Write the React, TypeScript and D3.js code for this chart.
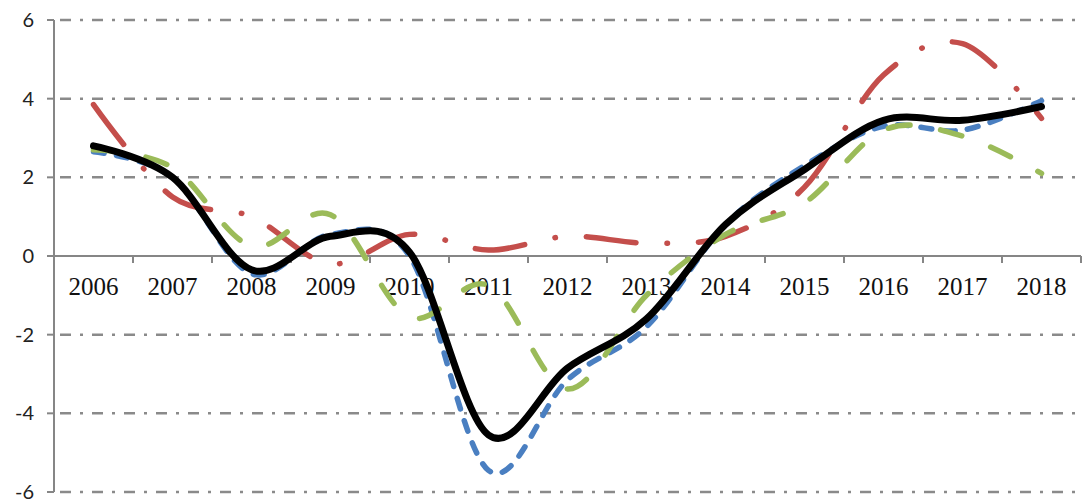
import React from "react";
import * as d3 from "d3";

const years = ["2006","2007","2008","2009","2010","2011","2012","2013","2014","2015","2016","2017","2018"];
const yTicks = [6, 4, 2, 0, -2, -4, -6];
const blueSeries = [2.65, 2.0, -0.45, 0.55, 0.0, -5.45, -3.15, -1.8, 0.8, 2.3, 3.3, 3.2, 3.95];
const redSeries = [3.85, 1.5, 1.0, -0.2, 0.55, 0.15, 0.5, 0.33, 0.5, 1.75, 4.6, 5.4, 3.5];
const greenSeries = [2.7, 2.25, 0.25, 1.05, -1.55, -0.75, -3.38, -1.0, 0.55, 1.35, 3.2, 3.05, 2.1];
const blackSeries = [2.8, 2.0, -0.35, 0.5, 0.1, -4.55, -2.85, -1.6, 0.8, 2.2, 3.45, 3.45, 3.8];

const W = 1082;
const H = 503;
const left = 54;
const right = 1081;
const top = 20;
const bottom = 492;
const axisColor = "#868686";

export default function App() {
  const x = d3.scaleBand<string>().domain(years).range([left, right]).paddingInner(0).paddingOuter(0);
  const y = d3.scaleLinear().domain([-6, 6]).range([bottom, top]);
  const bw = x.bandwidth();
  const line = d3
    .line<number>()
    .x((_, i) => (x(years[i]) as number) + bw / 2)
    .y((d) => y(d))
    .curve(d3.curveCardinal.tension(0));

  const series = [
    { data: blueSeries, color: "#4A7FC1", width: 5.5, dash: "11,12.5" },
    { data: redSeries, color: "#C44E4B", width: 5.5, dash: "50,31,0.5,31" },
    { data: greenSeries, color: "#9BBB59", width: 5.5, dash: "22,31" },
    { data: blackSeries, color: "#000000", width: 7, dash: "none" },
  ];

  return (
    <svg width={W} height={H} style={{ position: "absolute", left: 0, top: 0, background: "#fff" }}>
      {yTicks.filter((t) => t !== 0).map((t) => (
        <line
          key={"g" + t}
          x1={left}
          x2={W}
          y1={y(t)}
          y2={y(t)}
          stroke="#8a8a8a"
          strokeWidth={2.5}
          strokeDasharray="11,9,3,9"
          strokeDashoffset={-6}
        />
      ))}
      <line x1={left} x2={left} y1={top} y2={bottom} stroke={axisColor} strokeWidth={2} />
      {yTicks.map((t) => (
        <line key={"yt" + t} x1={left - 7} x2={left} y1={y(t)} y2={y(t)} stroke={axisColor} strokeWidth={2} />
      ))}
      {yTicks.map((t) => (
        <text
          key={"yl" + t}
          x={34}
          y={y(t) + 2}
          textAnchor="end"
          dominantBaseline="middle"
          fontFamily="Lato, 'Open Sans', sans-serif"
          fontSize={20}
          fill="#222"
        >
          {t}
        </text>
      ))}
      <line x1={left} x2={right} y1={y(0)} y2={y(0)} stroke={axisColor} strokeWidth={2} />
      {years.map((yr) => (
        <line
          key={"xt" + yr}
          x1={(x(yr) as number) + bw}
          x2={(x(yr) as number) + bw}
          y1={y(0)}
          y2={y(0) + 7}
          stroke={axisColor}
          strokeWidth={2}
        />
      ))}
      {years.map((yr) => (
        <text
          key={"xl" + yr}
          x={(x(yr) as number) + bw / 2}
          y={295}
          textAnchor="middle"
          fontFamily="'Liberation Serif', 'Times New Roman', serif"
          fontSize={25}
          fill="#111"
        >
          {yr}
        </text>
      ))}
      {series.map((s, i) => (
        <path
          key={"s" + i}
          d={line(s.data) || ""}
          fill="none"
          stroke={s.color}
          strokeWidth={s.width}
          strokeDasharray={s.dash}
          strokeLinecap="round"
          strokeLinejoin="round"
        />
      ))}
    </svg>
  );
}
